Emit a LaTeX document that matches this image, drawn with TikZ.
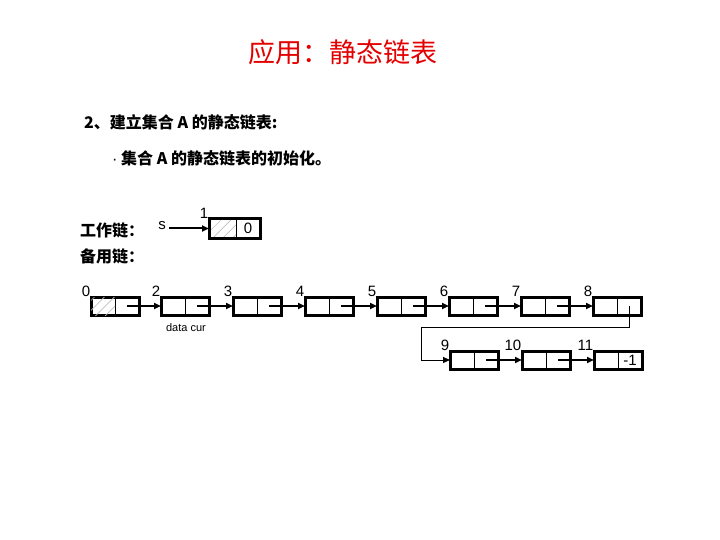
\documentclass[tikz,border=0pt]{standalone}
\usepackage{fontspec}
\setmainfont{Liberation Sans}
\newfontfamily\cjk{Noto Sans CJK SC}
\usetikzlibrary{positioning,arrows.meta,patterns.meta}
\definecolor{titlered}{RGB}{228,0,0}

\begin{document}
\begin{tikzpicture}[x=1pt, y=-1pt,
    cell/.style={rectangle, draw, line width=1pt, minimum width=24pt, minimum height=18pt, inner sep=0pt, outer sep=0pt, font=\fontsize{15}{15}\selectfont},
    hatched/.style={pattern={Lines[angle=45,distance=7pt,line width=0.7pt]}, pattern color=gray!50},
    frame/.style={line width=3pt},
    link/.style={-{Triangle[length=7pt,width=6pt]}, line width=2pt},
    thinlink/.style={-{Triangle[length=7pt,width=6pt]}, line width=1pt},
    idx/.style={anchor=south east, inner sep=0.5pt, font=\fontsize{15}{15}\selectfont},
    cjktext/.style={anchor=west, inner sep=0pt, font=\cjk\bfseries\fontsize{16}{16}\selectfont}]
    \useasboundingbox (0,0) rectangle (720,540);

    \node (title) [font=\cjk\fontsize{27}{27}\selectfont, text=titlered] at (343,52) {应用：静态链表};
    \node (heading) [cjktext] at (84,122) {2、建立集合 A 的静态链表:};
    \node (init) [cjktext] at (112,158) {{\normalfont·} 集合 A 的静态链表的初始化。};
    \node (work) [cjktext] at (80,230) {工作链：};
    \node (spare) [cjktext] at (80,256) {备用链：};

    % working chain
    \node (s) [font=\fontsize{15}{15}\selectfont] at (162,226) {s};
    \node (wl) [cell, hatched, minimum width=27pt, minimum height=19pt, anchor=north west] at (209,219) {};
    \node (wr) [cell, minimum height=19pt, right=0pt of wl] {0};
    \draw[frame] (wl.north west) rectangle (wr.south east);
    \node (w1) [idx] at (wl.north west) {1};
    \draw[link] (s.east |- wl.west) -- (wl.west);

    % spare chain
    \foreach \i/\x in {0/91,2/161,3/233,4/305,5/377,6/449,7/521,8/593} {
        \node (l\i) [cell, anchor=north west] at (\x,297) {};
        \node (r\i) [cell, right=0pt of l\i] {};
        \draw[frame] (l\i.north west) rectangle (r\i.south east);
        \node (n\i) [idx] at (l\i.north west) {\i};
    }
    \foreach \i/\x in {9/450,10/522,11/594} {
        \node (l\i) [cell, anchor=north west] at (\x,351) {};
        \node (r\i) [cell, right=0pt of l\i] {};
        \draw[frame] (l\i.north west) rectangle (r\i.south east);
        \node (n\i) [idx] at (l\i.north west) {\i};
    }
    \path[hatched] (l0.north west) rectangle (l0.south east);
    \node (end) [font=\fontsize{15}{15}\selectfont] at (r11) {-1};
    \node (caption) [font=\fontsize{11}{11}\selectfont] at (186,328) {data cur};

    \foreach \a/\b in {0/2,2/3,3/4,4/5,5/6,6/7,7/8,9/10,10/11}
        \draw[link] (r\a.center) -- (l\b.west);
    \coordinate (turn) at (421,327);
    \draw[thinlink] (r8.center) |- (turn) |- (l9.west);
\end{tikzpicture}
\end{document}
